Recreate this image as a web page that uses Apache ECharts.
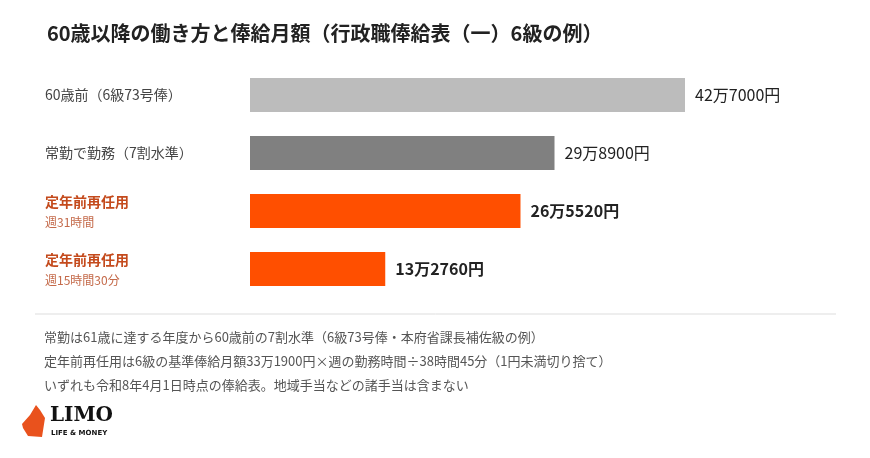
<!DOCTYPE html>
<html lang="ja">
<head>
<meta charset="UTF-8">
<script src="https://cdn.jsdelivr.net/npm/echarts@6/dist/echarts.min.js"></script>
<style>html,body{margin:0;background:#fff}#main{width:870px;height:458px}</style>
</head>
<body>
<div id="main"></div>
<script>
var categories = ['60歳前（6級73号俸）', '常勤で勤務（7割水準）', '定年前再任用|週31時間', '定年前再任用|週15時間30分'];
var values = [427000, 298900, 265520, 132760];
var valueLabels = ['42万7000円', '29万8900円', '26万5520円', '13万2760円'];
var colors = ['#bcbcbc', '#808080', '#ff4f00', '#ff4f00'];
var notes = [
  '常勤は61歳に達する年度から60歳前の7割水準（6級73号俸・本府省課長補佐級の例）',
  '定年前再任用は6級の基準俸給月額33万1900円×週の勤務時間÷38時間45分（1円未満切り捨て）',
  'いずれも令和8年4月1日時点の俸給表。地域手当などの諸手当は含まない'
];

var font = '"Noto Sans CJK JP", sans-serif';
var chart = echarts.init(document.getElementById('main'));

chart.setOption({
  textStyle: { fontFamily: font },
  title: {
    text: '60歳以降の働き方と俸給月額（行政職俸給表（一）6級の例）',
    left: 42, top: 18,
    textStyle: { fontSize: 20, fontWeight: 'bold', color: '#222', fontFamily: font }
  },
  grid: { left: 250, right: 185, top: 66, bottom: 160 },
  xAxis: { type: 'value', min: 0, max: 427000, show: false },
  yAxis: {
    type: 'category', inverse: true, data: categories,
    axisLine: { show: false }, axisTick: { show: false },
    axisLabel: {
      align: 'left', margin: 205,
      formatter: function (v) {
        var p = v.split('|');
        if (p.length === 1) return '{n|' + p[0] + '}';
        return '{o|' + p[0] + '}\n{s|' + p[1] + '}';
      },
      rich: {
        n: { fontSize: 14, color: '#444', fontFamily: font },
        o: { fontSize: 14, color: '#c44a1c', fontWeight: 'bold', fontFamily: font, lineHeight: 22 },
        s: { fontSize: 12, color: '#c46a4a', fontFamily: font, lineHeight: 18 }
      }
    }
  },
  series: [{
    type: 'bar', barWidth: 34,
    data: values.map(function (v, i) {
      return {
        value: v,
        itemStyle: { color: colors[i] },
        label: { fontWeight: i >= 2 ? 'bold' : 'normal' }
      };
    }),
    label: {
      show: true, position: 'right', distance: 10,
      fontSize: 16, color: '#222', fontFamily: font,
      formatter: function (p) { return valueLabels[p.dataIndex]; }
    }
  }],
  graphic: [
    { type: 'line', shape: { x1: 35, y1: 314, x2: 836, y2: 314 }, style: { stroke: '#ddd', lineWidth: 1 } },
    { type: 'text', left: 44, top: 331, style: { text: notes[0], fontSize: 13, fill: '#555', fontFamily: font } },
    { type: 'text', left: 44, top: 355, style: { text: notes[1], fontSize: 13, fill: '#555', fontFamily: font } },
    { type: 'text', left: 44, top: 379, style: { text: notes[2], fontSize: 13, fill: '#555', fontFamily: font } },
    { type: 'polygon', shape: { points: [[22, 424], [30, 415], [36, 405], [40, 410], [45, 418], [42, 437], [28, 436], [23, 428]] }, style: { fill: '#e9521d' } },
    { type: 'text', left: 50, top: 406, style: { text: 'LIMO', fontSize: 20, fontWeight: 'bold', fill: '#111', fontFamily: 'DejaVu Serif' } },
    { type: 'text', left: 51, top: 430, style: { text: 'LIFE & MONEY', fontSize: 7, fontWeight: 'bold', fill: '#111', fontFamily: 'DejaVu Sans' } }
  ]
});
</script>
</body>
</html>
